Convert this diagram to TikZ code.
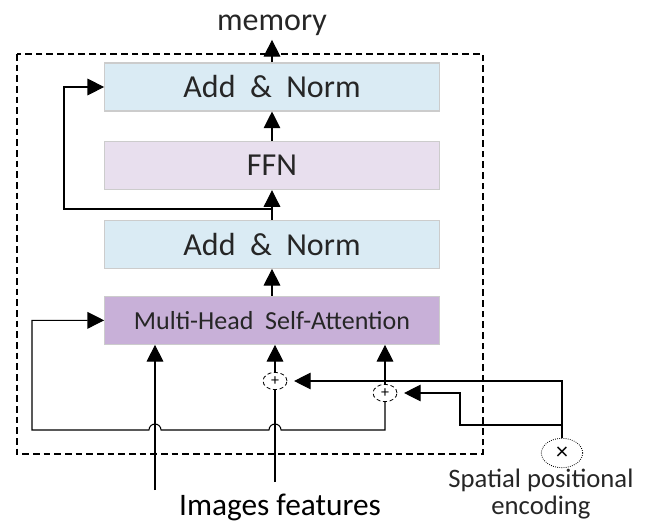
\documentclass[tikz,border=0pt]{standalone}
\usepackage{fontspec}
\setmainfont{Carlito}
\usetikzlibrary{arrows.meta, shapes.geometric}
\definecolor{normblue}{RGB}{218,235,244}
\definecolor{ffnpink}{RGB}{232,223,238}
\definecolor{attnpurple}{RGB}{200,176,216}
\tikzstyle{sum} = [ellipse, draw, densely dashed, line width=0.6pt,
minimum width=18pt, minimum height=13pt, inner sep=0pt,
fill=white, font=\fontsize{12}{12}\selectfont]
\tikzstyle{wire} = [draw, line width=0.8pt]

\begin{document}
\begin{tikzpicture}[x=0.75pt, y=-0.75pt, node distance=59pt]
                    % Define styles for boxes and line
                    \tikzstyle{block} = [rectangle, draw=black!20, line width=0.8pt, fill=normblue, minimum width=251pt, minimum height=36pt, inner sep=0pt, text=black!85, font=\fontsize{24}{28}\selectfont]
                    \tikzstyle{ffn_block} = [block, fill=ffnpink]
                    \tikzstyle{attn_block} = [block, fill=attnpurple, font=\fontsize{19.5}{23}\selectfont]  % attention block
                    \tikzstyle{line} = [wire, -{Triangle[length=12.5pt, width=12.5pt]}]

                    \useasboundingbox (0,0) rectangle (646,529);
                    \draw [line width=0.8pt, dash pattern=on 5pt off 3pt] (17,54) rectangle (483,454);

                    % Place nodes
                    \node [block] (add_norm_top) at (272,87) {Add \ \& \ Norm};
                    \node [ffn_block, below of=add_norm_top] (ffn) {FFN};
                    \node [block, below of=ffn] (add_norm_mid) {Add \ \& \ Norm};
                    \node [attn_block, below of=add_norm_mid, node distance=57pt] (mhsa) {Multi-Head \ Self-Attention};
                    \node [sum] (plus_q) at (275,381) {+};
                    \node [sum] (plus_k) at (385,393) {+};
                    \node [ellipse, draw, densely dotted, line width=0.6pt, minimum width=31pt, minimum height=22pt, inner sep=0pt, font=\fontsize{18}{18}\selectfont] (pos_enc) at (562,453) {×};
                    \node [anchor=base, text=black!85, font=\fontsize{24}{24}\selectfont] (memory) at (272,30) {memory};
                    \node [anchor=base, font=\fontsize{23.5}{24}\selectfont] (img_feat) at (280,515) {Images features};
                    \node [align=center, text=black!85, font=\fontsize{20}{20.3}\selectfont] (pos_label) at (541,494) {Spatial positional\\encoding};
                    \coordinate (img_l) at (155,490);
                    \coordinate (img_c) at (275,482);
                    \coordinate (res_top) at (272,209);
                    \coordinate (pos_split) at (562,425);

                    % Draw edges
                    \path [line] (add_norm_top.north) -- (memory.south);
                    \path [line] (ffn) -- (add_norm_top);
                    \path [line] (add_norm_mid) -- (ffn);
                    \path [line] (mhsa) -- (add_norm_mid);
                    \path [line] (res_top) -- (64,209) |- (add_norm_top.west);
                    \path [line] (plus_k.south) -- (385,430) -- (281,430) arc [start angle=0, end angle=180, radius=4.5pt] -- (161,430) arc [start angle=0, end angle=180, radius=4.5pt] -- (32,430) |- (mhsa.west);
                    \path [line] (img_l) -- (img_l |- mhsa.south);
                    \path [wire] (img_c) -- (plus_q.south);
                    \path [line] (plus_q.north) -- (plus_q.north |- mhsa.south);
                    \path [line] (plus_k.north) -- (plus_k.north |- mhsa.south);
                    \path [line, shorten >=5pt] (pos_enc.north) |- (plus_q.east);
                    \path [line, shorten >=5pt] (pos_split) -| (460,393) -- (plus_k.east);
                \end{tikzpicture}
\end{document}
